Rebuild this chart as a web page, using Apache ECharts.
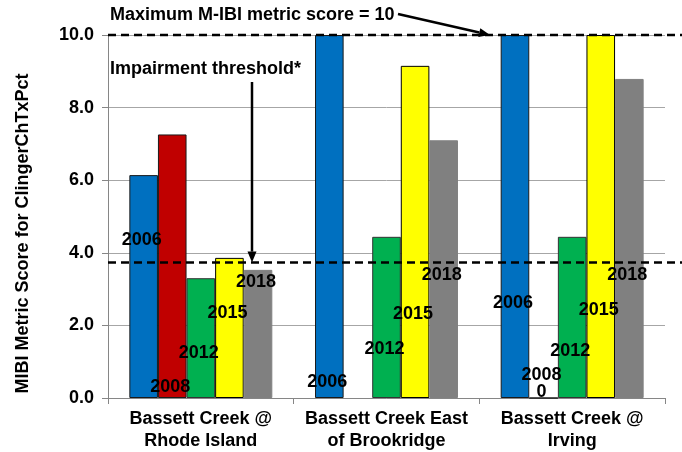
<!DOCTYPE html>
<html>
<head>
<meta charset="utf-8">
<script src="https://cdn.jsdelivr.net/npm/echarts@6/dist/echarts.min.js"></script>
<style>
  html, body { margin: 0; padding: 0; background: #fff; }
  #chart { width: 682px; height: 452px; }
</style>
</head>
<body>
<div id="chart"></div>
<script>
const sites = ['Bassett Creek @\nRhode Island', 'Bassett Creek East\nof Brookridge', 'Bassett Creek @\nIrving']
const years = ['2006', '2008', '2012', '2015', '2018']

// metric scores per year (null = not sampled)
const s2006 = [6.14, 10.0, 10.0]
const s2008 = [7.26, null, 0]
const s2012 = [3.30, 4.44, 4.44]
const s2015 = [3.86, 9.15, 10.0]
const s2018 = [3.53, 7.10, 8.79]

// where the year labels sit, in score units
const l2006 = [4.35, 0.45, 2.62]
const l2008 = [0.30, null, 0.40]
const l2012 = [1.24, 1.35, 1.29]
const l2015 = [2.34, 2.31, 2.42]
const l2018 = [3.20, 3.39, 3.39]

const yTicks = [0, 2, 4, 6, 8, 10]
const maxScore = 10
const threshold = 3.73

const values = [s2006, s2008, s2012, s2015, s2018]
const labelAt = [l2006, l2008, l2012, l2015, l2018]
const colors = ['#0070C0', '#C00000', '#00B050', '#FFFF00', '#808080']
const borders = ['#1a1a1a', '#1a1a1a', '#333333', '#000000', '#808080']

const FONT = 'Liberation Sans, Arial, sans-serif'

const chart = echarts.init(document.getElementById('chart'), null, { renderer: 'canvas' })

function buildSeries(offsets) {
  return years.map((yr, si) => ({
    name: yr,
    type: 'bar',
    barGap: '0%',
    barCategoryGap: '23%',
    itemStyle: { color: colors[si], borderColor: borders[si], borderWidth: 1 },
    label: {
      show: true,
      position: 'inside',
      color: '#000',
      fontFamily: FONT,
      fontWeight: 'bold',
      fontSize: 18,
      lineHeight: 17,
      formatter: p => (p.value === 0 ? yr + '\n0' : yr),
    },
    data: values[si].map((v, ci) => ({
      value: v,
      label: offsets ? { offset: offsets[si][ci] } : {},
    })),
  }))
}

const option = {
  animation: false,
  backgroundColor: '#fff',
  grid: { left: 108, right: 17, top: 35, bottom: 54 },
  xAxis: {
    type: 'category',
    data: sites,
    axisLine: { lineStyle: { color: '#868686', width: 1 } },
    axisTick: { show: true, interval: 0, length: 6, lineStyle: { color: '#868686' } },
    axisLabel: {
      interval: 0,
      margin: 10,
      color: '#000',
      fontFamily: FONT,
      fontWeight: 'bold',
      fontSize: 18,
      lineHeight: 22,
    },
  },
  yAxis: {
    type: 'value',
    min: 0,
    max: 10,
    interval: 2,
    name: 'MIBI Metric Score for ClingerChTxPct',
    nameLocation: 'middle',
    nameGap: 76,
    nameTextStyle: {
      color: '#000', fontFamily: FONT, fontWeight: 'bold', fontSize: 18,
      padding: [0, 34, 0, 0],
    },
    axisLine: { show: true, lineStyle: { color: '#868686', width: 1 } },
    axisTick: { show: true, length: 6, lineStyle: { color: '#868686' } },
    splitLine: { lineStyle: { color: '#a6a6a6', width: 1 } },
    axisLabel: {
      margin: 14,
      color: '#000',
      fontFamily: FONT,
      fontWeight: 'bold',
      fontSize: 18,
      formatter: v => (yTicks.includes(v) ? v.toFixed(1) : ''),
    },
  },
  series: buildSeries(null),
}

chart.setOption(option)

// second pass: place labels and annotations using the axis scale
const py = v => chart.convertToPixel({ yAxisIndex: 0 }, v)
const y0 = py(0)
const offsets = labelAt.map((arr, si) => arr.map((la, ci) => {
  const v = values[si][ci]
  if (v == null || la == null) return [0, 0]
  const center = (py(v) + y0) / 2
  return [-2, py(la) - center]
}))

function arrow(x1, y1, x2, y2) {
  const ang = Math.atan2(y2 - y1, x2 - x1)
  const len = 11, hw = 4.5
  const bx = x2 - len * Math.cos(ang), by = y2 - len * Math.sin(ang)
  const nx = -Math.sin(ang) * hw, ny = Math.cos(ang) * hw
  return [
    { type: 'line', shape: { x1, y1, x2: bx, y2: by }, style: { stroke: '#000', lineWidth: 2.5 } },
    { type: 'polygon', shape: { points: [[x2, y2], [bx + nx, by + ny], [bx - nx, by - ny]] }, style: { fill: '#000' } },
  ]
}

const gridLeft = 108
const yMax = py(maxScore)
const yThr = py(threshold)

chart.setOption({
  series: buildSeries(offsets),
  graphic: [
    { type: 'line', z: 10, shape: { x1: gridLeft, y1: yMax, x2: 682, y2: yMax }, style: { stroke: '#000', lineWidth: 2.5, lineDash: [8, 5] } },
    { type: 'line', z: 10, shape: { x1: gridLeft, y1: yThr, x2: 682, y2: yThr }, style: { stroke: '#000', lineWidth: 2.5, lineDash: [8, 5] } },
    { type: 'text', z: 10, left: 110, top: 6, style: { text: 'Maximum M-IBI metric score = 10', fill: '#000', font: 'bold 18px ' + FONT } },
    { type: 'text', z: 10, left: 110, top: 60, style: { text: 'Impairment threshold*', fill: '#000', font: 'bold 18px ' + FONT } },
    ...arrow(398, 14, 490, yMax).map(g => ({ ...g, z: 10 })),
    ...arrow(252, 82, 252, yThr).map(g => ({ ...g, z: 10 })),
  ],
})
</script>
</body>
</html>
